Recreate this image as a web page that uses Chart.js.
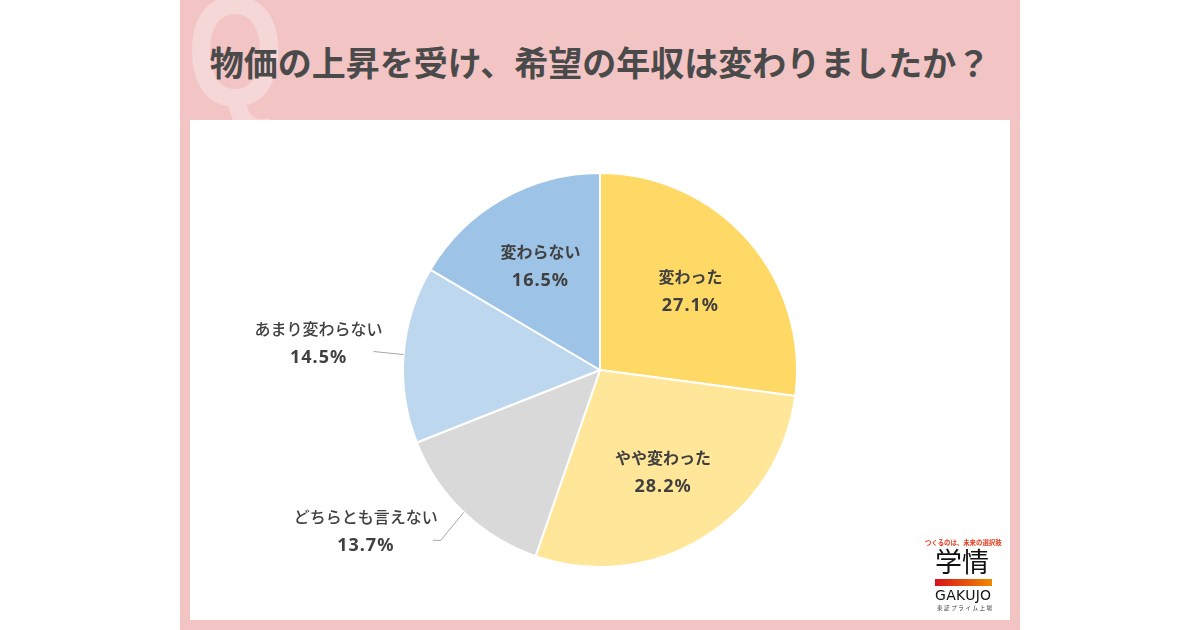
<!DOCTYPE html>
<html lang="ja">
<head>
<meta charset="utf-8">
<script src="https://cdn.jsdelivr.net/npm/chart.js@4"></script>
<style>
  body { margin: 0; width: 1200px; height: 630px; background: #fff; overflow: hidden; position: relative; font-family: "Noto Sans CJK JP", sans-serif; }
  #panel { position: absolute; left: 180px; top: 0; width: 840px; height: 630px; background: #F2C4C4; overflow: hidden; }
  #q { position: absolute; left: 7px; top: -26px; font: 700 155px "Liberation Sans", sans-serif; color: #F6D7D7; line-height: 1; transform: scaleX(0.8); transform-origin: 0 0; }
  #title { position: absolute; left: 0; width: 840px; top: 42px; text-align: center; font-weight: 700; font-size: 34px; line-height: 40px; color: #4A4A4A; }
  #inner { position: absolute; left: 10px; top: 120px; width: 820px; height: 500px; background: #fff; }
  #chart { position: absolute; left: 0; top: 0; }
  .logo { position: absolute; white-space: nowrap; }
</style>
</head>
<body>
<div id="panel">
  <div id="q">Q</div>
  <div id="title">物価の上昇を受け、希望の年収は変わりましたか？</div>
  <div id="inner">
    <canvas id="chart" width="820" height="500"></canvas>
    <div class="logo" style="left:735px;top:418px;font-size:6.4px;line-height:9px;font-weight:700;color:#E8381B;">つくるのは、未来の選択肢</div>
    <div class="logo" style="left:745px;top:427px;font-size:27px;line-height:27px;font-weight:400;color:#111;">学情</div>
    <div class="logo" style="left:745px;top:459px;width:57px;height:7px;background:linear-gradient(90deg,#D9101B,#F08A00);"></div>
    <div class="logo" style="left:745px;top:468px;font:400 14px/14px 'DejaVu Sans',sans-serif;color:#111;letter-spacing:0.3px;">GAKUJO</div>
    <div class="logo" style="left:747px;top:485px;font-size:5.5px;line-height:7px;color:#333;letter-spacing:1.6px;">東証プライム上場</div>
  </div>
</div>
<script>
const categories = ['変わった', 'やや変わった', 'どちらとも言えない', 'あまり変わらない', '変わらない'];
const shares = [27.1, 28.2, 13.7, 14.5, 16.5];
const valueLabels = ['27.1%', '28.2%', '13.7%', '14.5%', '16.5%'];
const sliceColors = ['#FFD966', '#FFE699', '#D9D9D9', '#BDD7EE', '#9DC3E6'];

// labels outside the pie: leader line bends, relative to the slice's edge point
const outside = {
  2: { line: [[-23, 28], [-31, 28]], text: [-98, 19] },
  3: { line: [[-30, -3]], text: [-85, -12] }
};

const labelPlugin = {
  id: 'sliceLabels',
  afterDatasetsDraw(chart) {
    const ctx = chart.ctx;
    const arcs = chart.getDatasetMeta(0).data;
    ctx.save();
    ctx.textAlign = 'center';
    ctx.textBaseline = 'middle';
    ctx.fillStyle = '#404040';
    arcs.forEach((arc, i) => {
      const mid = (arc.startAngle + arc.endAngle) / 2;
      const cx = arc.x, cy = arc.y, r = arc.outerRadius;
      let tx, ty;
      if (outside[i]) {
        const ex = cx + Math.cos(mid) * r;
        const ey = cy + Math.sin(mid) * r;
        ctx.strokeStyle = '#A6A6A6';
        ctx.lineWidth = 1;
        ctx.beginPath();
        ctx.moveTo(ex, ey);
        outside[i].line.forEach(p => ctx.lineTo(ex + p[0], ey + p[1]));
        ctx.stroke();
        tx = ex + outside[i].text[0];
        ty = ey + outside[i].text[1];
        ctx.font = '500 16px "Noto Sans CJK JP", sans-serif';
      } else {
        tx = cx + Math.cos(mid) * r * 0.61;
        ty = cy + Math.sin(mid) * r * 0.61;
        ctx.font = '700 16px "Noto Sans CJK JP", sans-serif';
      }
      ctx.letterSpacing = '0px';
      ctx.fillText(categories[i], tx, ty - 14);
      ctx.font = '700 18px "Noto Sans", sans-serif';
      ctx.letterSpacing = '1px';
      ctx.fillText(valueLabels[i], tx, ty + 15);
    });
    ctx.restore();
  }
};

new Chart(document.getElementById('chart'), {
  type: 'pie',
  data: {
    labels: categories,
    datasets: [{
      data: shares,
      backgroundColor: sliceColors,
      borderColor: '#FFFFFF',
      borderWidth: 2
    }]
  },
  options: {
    responsive: false,
    animation: false,
    layout: { padding: { top: 52, bottom: 52 } },
    plugins: {
      legend: { display: false },
      tooltip: { enabled: false }
    }
  },
  plugins: [labelPlugin]
});
</script>
</body>
</html>
